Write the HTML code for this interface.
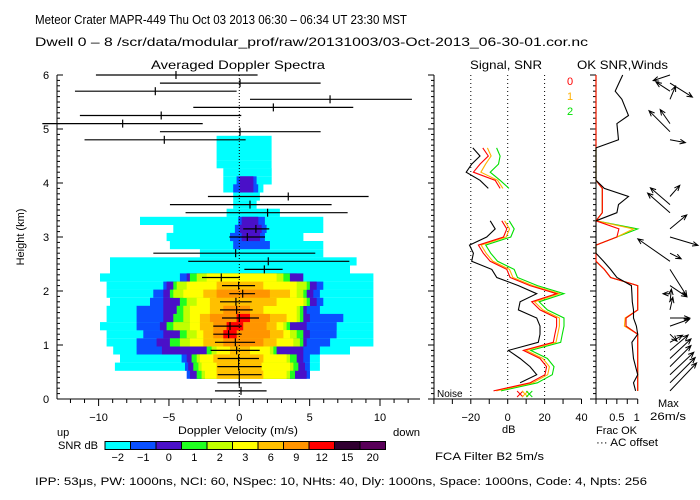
<!DOCTYPE html>
<html><head><meta charset="utf-8"><style>
html,body{margin:0;padding:0;background:#fff;}
svg{display:block;font-family:"Liberation Sans",sans-serif;}
</style></head><body>
<svg id="c" width="700" height="500" viewBox="0 0 700 500" xmlns="http://www.w3.org/2000/svg">
<g font-size="13">
<text x="35" y="24" textLength="372" lengthAdjust="spacingAndGlyphs">Meteor Crater  MAPR-449  Thu Oct 03 2013 06:30 – 06:34 UT 23:30 MST</text>
<text x="35" y="46" font-size="12" textLength="553" lengthAdjust="spacingAndGlyphs">Dwell  0 –  8   /scr/data/modular_prof/raw/20131003/03-Oct-2013_06-30-01.cor.nc</text>
<text x="151" y="69" font-size="12" textLength="174" lengthAdjust="spacingAndGlyphs">Averaged Doppler Spectra</text>
<text x="470" y="69" font-size="12" textLength="72" lengthAdjust="spacingAndGlyphs">Signal, SNR</text>
<text x="577" y="69" font-size="12" textLength="91" lengthAdjust="spacingAndGlyphs">OK SNR,Winds</text>
</g>
<g id="heat"></g>
<g id="axes" stroke="#000" stroke-width="1" fill="none"></g>
<g id="marks"></g>
<g id="labels" font-size="11" fill="#000"></g>
<g font-size="11">
<text x="57" y="436">up</text>
<text x="178" y="434" textLength="120" lengthAdjust="spacingAndGlyphs">Doppler Velocity (m/s)</text>
<text x="393" y="436" textLength="27" lengthAdjust="spacingAndGlyphs">down</text>
<text x="502" y="433">dB</text>
<text x="596" y="434" textLength="41" lengthAdjust="spacingAndGlyphs">Frac OK</text>
<text x="596" y="446" textLength="62" lengthAdjust="spacingAndGlyphs">··· AC offset</text>
<text x="658" y="407">Max</text>
<text x="650" y="420" textLength="36" lengthAdjust="spacingAndGlyphs">26m/s</text>
<text x="58" y="449" textLength="40" lengthAdjust="spacingAndGlyphs">SNR dB</text>
<text x="435" y="460" textLength="109" lengthAdjust="spacingAndGlyphs">FCA Filter B2   5m/s</text>
<text x="35" y="485" textLength="612" lengthAdjust="spacingAndGlyphs">IPP:  53μs,  PW: 1000ns,  NCI:  60,  NSpec: 10, NHts: 40,  Dly: 1000ns,  Space: 1000ns,  Code: 4,  Npts: 256</text>
</g>
<g id="cbar"></g>
</svg>
<script>
// ---------- data ----------
const levelColors = ["#00ffff","#0a50ff","#4a10c8","#20ff20","#c0ff00","#ffff00","#ffc000","#ff9400","#ff0000","#300030","#580058"];
const levelLabels = ["−2","−1","0","1","2","3","6","9","12","15","20"];
// heatmap rows: [gate, left m/s, right m/s]
const cyanRows = [[4,-8.84,5.73],[5,-8.48,5.73],[6,-8.96,7.87],[7,-9.43,9.53],[8,-9.43,9.53],[9,-9.9,9.53],[10,-9.43,9.53],[11,-9.43,9.53],[12,-9.19,9.53],[13,-9.43,9.53],[14,-9.43,9.53],[15,-9.9,9.53],[16,-9.19,7.87],[17,-9.19,8.34],[18,-2.8,5.97],[19,-4.93,5.97],[20,-5.17,4.55],[21,-4.69,5.97],[22,-7.06,5.97],[23,-0.9,2.89],[24,-0.43,1.23],[25,-0.43,1.47],[26,-1.14,1.71],[27,-1.14,2.3],[28,-1.14,2.3],[29,-1.61,2.3],[30,-1.61,2.3],[31,-1.61,2.3],[32,-1.61,2.3]];
const blueRows = [[3,-3.74,5.02],[4,-3.86,5.02],[5,-4.1,5.02],[6,-7.3,5.73],[7,-7.3,6.45],[8,-6.82,6.92],[9,-7.3,6.92],[10,-7.3,7.39],[11,-7.3,5.73],[12,-6.35,5.97],[13,-6.11,5.73],[14,-5.4,5.97],[15,-4.22,4.08],[19,-0.43,2.18],[20,-0.66,1.82],[21,-0.31,1.94],[22,-0.07,1.82],[26,-0.43,1.35],[27,-0.19,1.23]];
const purpleRows = [[3,-3.51,4.79],[4,-3.63,4.67],[5,-3.74,4.55],[6,-5.5,4.55],[7,-5.88,4.79],[8,-5.4,5.02],[9,-5.64,4.79],[10,-5.4,5.02],[11,-5.4,4.79],[12,-5.4,5.5],[13,-5.4,5.26],[14,-5.17,5.5],[15,-3.74,4.55],[20,0.17,1.47],[21,0.05,1.59],[22,0.17,1.35],[26,0.05,1.0],[27,0.05,1.0]];
const greenRows = [[3,-3.03,3.96],[4,-3.27,4.19],[5,-3.39,4.08],[6,-2.32,2.65],[7,-4.93,4.55],[8,-4.22,4.55],[9,-5.17,3.6],[10,-4.69,4.55],[11,-4.45,4.55],[12,-4.22,5.02],[13,-4.93,4.79],[14,-4.69,5.02],[15,-3.51,3.6]];
const ygreenRows = [[3,-2.68,3.6],[4,-2.91,3.84],[5,-3.03,3.6],[6,-1.97,2.42],[7,-4.22,4.31],[8,-3.74,4.08],[9,-4.69,3.36],[10,-3.98,4.31],[11,-3.98,4.31],[12,-3.74,4.79],[13,-4.69,4.55],[14,-4.45,4.79],[15,-3.03,3.13]];
const yellowRows = [[3,-2.44,3.36],[4,-2.68,3.6],[5,-2.8,3.36],[6,-1.61,2.18],[7,-3.51,3.84],[8,-3.03,3.6],[9,-3.51,3.13],[10,-3.51,4.08],[11,-3.51,4.08],[12,-3.03,4.55],[13,-3.98,4.08],[14,-3.74,4.08],[15,-2.32,2.65]];
const lorangeRows = [[3,-1.61,1.71],[4,-1.61,1.59],[5,-1.85,1.71],[6,-0.66,0.76],[7,-2.56,2.65],[8,-2.56,3.13],[9,-2.8,2.65],[10,-2.8,3.36],[11,-2.09,1.71],[12,-2.09,2.65],[13,-2.56,3.6],[14,-1.61,1.71]];
const orangeRows = [[7,-1.14,1.71],[8,-1.85,2.18],[9,-1.85,1.94],[10,-2.09,2.18],[11,-1.14,0.76],[13,-1.61,2.18]];
const redRows = [[8,-1.14,-0.19],[9,-0.9,0.28],[10,-0.19,0.76]];
// radial velocity error bars: [gate, center, left, right] m/s
const velBars = [[1,0.12,-1.73,1.94],[2,0,-1.56,1.59],[3,0,-1.54,1.59],[4,-0.05,-1.56,1.59],[5,-0.05,-1.54,1.4],[6,-0.19,-2.04,1.45],[7,-0.28,-1.73,1.12],[8,-0.76,-1.85,0.17],[9,-0.66,-1.85,0.17],[10,0,-1.23,1.4],[11,-0.19,-1.37,0.95],[12,-0.24,-1.37,0.88],[13,0.24,-0.71,1.12],[14,-0.05,-1.23,1.12],[15,-1.28,-2.65,0.05],[16,1.78,0.36,3.08],[17,2.06,-3.63,7.82],[18,-0.26,-6.11,5.4],[20,0.57,-0.71,1.83],[21,1.18,0.28,2.13],[23,2.01,-3.82,7.7],[24,0.76,-4.93,6.56],[25,3.48,-2.23,9.19],[32,-5.33,-11.0,0.45],[33,0.05,-5.64,5.78],[34,-8.29,-14.0,-2.6],[35,-5.55,-11.33,0.14],[36,2.42,-3.27,8.1],[37,6.45,0.76,12.27],[38,-5.97,-11.68,-0.19],[39,0.05,-5.64,5.78],[40,-4.5,-10.19,1.3]];
// signal / SNR (dB) profiles
const lowGates = [1,2,3,4,5,6,7,8,9,10,11,12,13,14,15,16,17,18,19,20,21,22];
const snr0Low = [-7.7,12.1,20.2,21.1,17.5,8.5,24.7,25.6,26.5,26.5,17.5,13.0,26.5,12.1,1.3,-0.5,-9.5,-13.2,-15.9,-2.3,-0.5,-3.2];
const snr1Low = [-6.2,13.6,21.7,22.6,19.0,10.0,26.2,27.1,28.0,28.0,19.0,14.5,28.0,13.6,2.8,1.0,-8.0,-11.7,-14.4,-0.8,1.0,-1.7];
const snr2Low = [-3.7,16.1,24.2,25.1,21.5,12.5,28.7,29.6,30.5,30.5,21.5,17.0,30.5,16.1,5.3,3.5,-5.5,-9.2,-11.9,1.7,3.5,0.8];
const sigGatesLow = [2,3,4,5,6,7,8,9,10,11,12,13,14,15,16,17,18,19,20,21,22];
const signalLow = [6.7,15.7,12.1,6.7,0.4,16.6,17.5,17.5,15.7,5.8,6.7,15.7,5.8,-5.9,-8.6,-19.5,-18.6,-20.7,-11.4,-6.8,-9.5];
const highGates = [26,27,28,29,30,31];
const snr0High = [-4.1,-6.8,-18.6,-15.0,-10.5,-13.5];
const snr1High = [-2.6,-5.5,-14.5,-12.0,-9.0,-11.0];
const snr2High = [0.7,-4.1,-9.5,-5.0,-4.1,-6.0];
const signalHigh = [-10.5,-15.0,-22.5,-19.5,-15.0,-18.9];
const noiseMarks = [6.7,9.4,11.7];
// fraction OK (gates 1..40)
const fracBlack = [0.95,0.9,1,0.95,0.9,0.88,0.86,1,0.97,0.9,0.9,0.87,0.86,0.85,0.5,0.35,0.18,0,0,0,0,0,0.5,0.54,0.78,0.2,0,0,0,0,0,0.54,0.52,0.5,0.78,0.7,0.62,0.46,0.55,0.64];
const fracRed = [1,1,1,1,1,1,1,1,0.72,0.72,1,1,1,1,0.35,0.2,0,0,0,0.5,0.55,0,0.15,0.15,0.15,0.15,0,0,0,0,0,0,0,0,0,0,0,0,0,0];
const fracOrange = [1,1,1,1,1,1,1,1,0.68,0.7,1,1,1,1,0.35,0.2,0,0,0,0.5,0.9,0,0.15,0.15,0.15,0.15,0,0,0,0,0,0,0,0,0,0,0,0,0,0];
const fracGreen = [1,1,1,1,1,1,1,1,0.72,0.72,1,1,1,1,0.35,0.2,0,0,0,0.5,1,0,0.15,0.15,0.15,0.15,0,0,0,0,0,0,0,0,0,0,0,0,0,0];
// winds: [gate, u, v] m/s
const winds = [[1,19,20],[2,18,18],[3,17,16],[4,15,15],[5,15,14],[6,13,11],[7,9,5],[8,5,-5],[9,14,5],[10,14,0],[11,2,9],[12,1,9],[13,-5,0],[14,12,-8],[16,12,-19],[17,-23,16],[18,8,-4],[20,20,-6],[21,12,10],[23,-16,14],[24,-14,12],[25,7,8],[32,11,-2],[33,-15,15],[34,-7,10],[37,4,9.5],[38,-10,6.5],[39,16,-10],[40,-12,-4]];
const velTicks = [-10,-5,0,5,10];
const hTicks = [0,1,2,3,4,5,6];
const dbTicks = [-20,0,20,40];

// ---------- scales ----------
const NS="http://www.w3.org/2000/svg";
const X = v => 239.3 + v*14.07;
const H = h => 399 - h*54;
const G = k => H(k*0.15);
const D = db => 507.7 + db*1.845;
const F = f => 596 + f*41.7;
const XMIN=57, XMAX=420;
function mk(tag, parent, attrs){const e=document.createElementNS(NS,tag);for(const a in attrs)e.setAttribute(a,attrs[a]);parent.appendChild(e);return e;}
const heat=document.getElementById('heat'), axes=document.getElementById('axes'), marks=document.getElementById('marks'), labels=document.getElementById('labels'), cbar=document.getElementById('cbar');

// heatmap
[cyanRows,blueRows,purpleRows,greenRows,ygreenRows,yellowRows,lorangeRows,orangeRows,redRows].forEach((rows,li)=>{
  rows.forEach(r=>{
    const x1=Math.max(XMIN,X(r[1])), x2=Math.min(XMAX,X(r[2]));
    const e=mk('rect',heat,{x:x1.toFixed(1),y:(G(r[0])-4.05).toFixed(1),width:(x2-x1).toFixed(1),height:8.2,fill:levelColors[li]});
    
    
  });
});

// main axes
let e;
e=mk('line',axes,{x1:XMIN,y1:H(6),x2:XMIN,y2:399});  
e=mk('line',axes,{x1:XMIN,y1:399,x2:XMAX,y2:399});  
for(let i=0;i<=60;i++){const y=H(i/10);const L=(i%10==0)?6:3;mk('line',axes,{x1:XMIN,y1:y,x2:XMIN+L,y2:y});mk('line',axes,{x1:434,y1:y,x2:434-L,y2:y});mk('line',axes,{x1:596,y1:y,x2:596-L,y2:y});}
for(let v=-13;v<=12;v++){const x=X(v);if(x<XMIN||x>XMAX)continue;mk('line',axes,{x1:x,y1:399,x2:x,y2:(v%5==0)?406:403});}
hTicks.forEach(h=>{e=mk('text',labels,{x:46,y:H(h)+4,'text-anchor':'middle'});e.textContent=h;});
velTicks.forEach(v=>{e=mk('text',labels,{x:X(v),y:421,'text-anchor':'middle'});e.textContent=v<0?'−'+(-v):v;});
e=mk('text',labels,{x:0,y:0,transform:'translate(24,237) rotate(-90)','text-anchor':'middle'});e.textContent='Height (km)';
e=mk('line',marks,{x1:X(0),y1:H(6),x2:X(0),y2:399,stroke:'#000','stroke-dasharray':'1,2'});

// velocity bars
velBars.forEach(b=>{
  const y=G(b[0]);
  const x1=Math.max(40,X(b[2])), x2=Math.min(XMAX,X(b[3]));
  e=mk('line',marks,{x1:x1,y1:y,x2:x2,y2:y,stroke:'#000','stroke-width':1.2});
  e=mk('line',marks,{x1:X(b[1]),y1:y-4,x2:X(b[1]),y2:y+4,stroke:'#000','stroke-width':1.2});
});

// signal panel
e=mk('line',axes,{x1:434,y1:H(6),x2:434,y2:399});
e=mk('line',axes,{x1:430,y1:399,x2:D(40),y2:399});
for(let d=-40;d<=40;d+=10)mk('line',axes,{x1:D(d),y1:399,x2:D(d),y2:404});
dbTicks.forEach(d=>{e=mk('text',labels,{x:D(d),y:421,'text-anchor':'middle'});e.textContent=d<0?'−'+(-d):d;
  if(d<40){e=mk('line',marks,{x1:D(d),y1:H(6),x2:D(d),y2:399,stroke:'#000','stroke-dasharray':'1,3'});}});
function pl(gates,vals,sc,color,name){const pts=gates.map((g,i)=>sc(vals[i]).toFixed(1)+','+G(g).toFixed(1)).join(' ');const p=mk('polyline',marks,{points:pts,fill:'none',stroke:color,'stroke-width':1.1});}
pl(sigGatesLow,signalLow,D,'#000','signal-line-low');
pl(highGates,signalHigh,D,'#000','signal-line-high');
pl(lowGates,snr2Low,D,'#00e000','snr2-line-low');pl(highGates,snr2High,D,'#00e000','snr2-line-high');
pl(lowGates,snr1Low,D,'#ffb000','snr1-line-low');pl(highGates,snr1High,D,'#ffb000','snr1-line-high');
pl(lowGates,snr0Low,D,'#ff0000','snr0-line-low');pl(highGates,snr0High,D,'#ff0000','snr0-line-high');
const nc=['#ff0000','#ffb000','#00e000'];
noiseMarks.forEach((d,i)=>{const x=D(d),y=394;e=mk('path',marks,{d:`M${x-3},${y-3}L${x+3},${y+3}M${x-3},${y+3}L${x+3},${y-3}`,stroke:nc[i],fill:'none'});});
e=mk('text',labels,{x:437,y:397,'font-size':10});e.textContent='Noise';
['0','1','2'].forEach((t,i)=>{e=mk('text',labels,{x:570,y:85+i*15,'text-anchor':'middle',fill:nc[i]});e.textContent=t;});

// winds panel
e=mk('line',axes,{x1:596,y1:H(6),x2:596,y2:399});
e=mk('line',axes,{x1:592,y1:399,x2:F(1),y2:399});
for(let f=0;f<=1.001;f+=0.25)mk('line',axes,{x1:F(f),y1:399,x2:F(f),y2:404});
[[0.5,'0.5'],[1,'1']].forEach(t=>{e=mk('text',labels,{x:F(t[0])-(t[0]==1?1:0),y:421,'text-anchor':'middle'});e.textContent=t[1];});
const allG=[...Array(40)].map((_,i)=>i+1);
pl(allG,fracGreen,F,'#00e000','frac-green-line');
pl(allG,fracOrange,F,'#ffb000','frac-orange-line');
pl(allG,fracRed,F,'#ff0000','frac-red-line');
pl(allG,fracBlack,F,'#000','frac-ok-line');
winds.forEach(w=>{
  const x0=670,y0=G(w[0]),x1=x0+w[1]*1.4,y1=y0-w[2]*1.4;
  const a=Math.atan2(y1-y0,x1-x0),L=6;
  const ax=x1-L*Math.cos(a-0.4),ay=y1-L*Math.sin(a-0.4),bx=x1-L*Math.cos(a+0.4),by=y1-L*Math.sin(a+0.4);
  e=mk('path',marks,{d:`M${x0},${y0.toFixed(1)}L${x1.toFixed(1)},${y1.toFixed(1)}M${ax.toFixed(1)},${ay.toFixed(1)}L${x1.toFixed(1)},${y1.toFixed(1)}L${bx.toFixed(1)},${by.toFixed(1)}`,stroke:'#000',fill:'none','stroke-width':1});
  
  
});

// colorbar
const cw=25.5;
levelColors.forEach((c,i)=>{
  e=mk('rect',cbar,{x:105+i*cw,y:441.5,width:cw,height:8,fill:c,stroke:'#000','stroke-width':1});
  
  
  e=mk('text',cbar,{x:105+i*cw+cw/2,y:461,'text-anchor':'middle','font-size':11});
  e.textContent=levelLabels[i];
  
  
});
</script>
</body></html>
